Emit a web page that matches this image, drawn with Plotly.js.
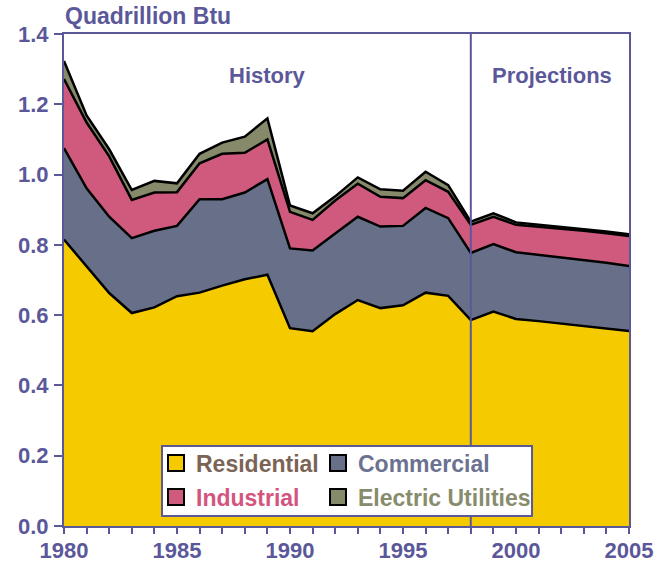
<!DOCTYPE html>
<html>
<head>
<meta charset="utf-8">
<script src="https://cdn.plot.ly/plotly-3.0.1.min.js"></script>
<style>
html,body{margin:0;padding:0;background:#ffffff;}
#chart{width:670px;height:563px;}
</style>
</head>
<body>
<div id="chart"></div>
<script>
// ---- Data (Quadrillion Btu) ----
const years = [1980,1981,1982,1983,1984,1985,1986,1987,1988,1989,1990,1991,1992,1993,1994,1995,1996,1997,1998,1999,2000,2001,2002,2003,2004,2005];
const residential = [0.815,0.740,0.663,0.606,0.622,0.654,0.664,0.684,0.702,0.715,0.563,0.554,0.603,0.643,0.620,0.628,0.664,0.655,0.586,0.610,0.589,0.583,0.576,0.568,0.562,0.555];
const commercial  = [0.260,0.221,0.217,0.213,0.218,0.200,0.266,0.246,0.247,0.272,0.227,0.230,0.229,0.237,0.232,0.226,0.241,0.221,0.191,0.192,0.190,0.189,0.189,0.189,0.187,0.185];
const industrial  = [0.197,0.187,0.172,0.109,0.109,0.096,0.102,0.129,0.113,0.113,0.104,0.087,0.094,0.094,0.085,0.079,0.079,0.075,0.080,0.078,0.078,0.080,0.082,0.083,0.084,0.085];
const electric    = [0.051,0.020,0.020,0.028,0.033,0.025,0.027,0.032,0.046,0.060,0.018,0.019,0.012,0.018,0.021,0.021,0.024,0.019,0.009,0.010,0.007,0.006,0.005,0.005,0.005,0.005];
const seriesNames = ['Residential','Commercial','Industrial','Electric Utilities'];
const yTickVals = [0,0.2,0.4,0.6,0.8,1.0,1.2,1.4];
const xTickVals = [1980,1985,1990,1995,2000,2005];
const periodLabels = ['History','Projections'];
const periodLabelX = [1989.0,2001.6];
const splitYear = 1998;

// ---- Styling ----
const purple = '#5B5899';
const fills = ['#F5CB00','#687089','#D05A7E','#868A6A'];
const textColors = ['#7B6455','#6B7291','#D3557E','#878C6C'];
const fam = '"Liberation Sans", Arial, Helvetica, sans-serif';
const baseFont = {family: fam, size: 22, color: purple, weight: 'bold'};

const series = [residential, commercial, industrial, electric];

const traces = series.map((s, i) => ({
  x: years, y: s, type: 'scatter', mode: 'lines',
  stackgroup: 'one', fillcolor: fills[i],
  line: {color: '#000000', width: 2.5},
  name: seriesNames[i], showlegend: false
}));

// one legend per entry so the 2x2 grid sits exactly as in the reference
const legendIds = ['legend','legend2','legend3','legend4'];
const legendTraces = seriesNames.map((n, i) => ({
  x: [null], y: [null], type: 'scatter', mode: 'markers',
  marker: {symbol: 'square', size: 16, color: fills[i], line: {color: '#000000', width: 2}},
  name: '<span style="color:' + textColors[i] + '">' + n + '</span>',
  legend: legendIds[i],
  showlegend: true, hoverinfo: 'skip'
}));

// pixel helpers for plot-area (paper) placement
const L = 64, R = 629, T = 34, B = 526;
const px = p => (p - L) / (R - L);
const py = p => (B - p) / (B - T);

const legendPos = [[156,463],[318,463],[156,497],[318,497]];
function legendCfg(i) {
  return {
    orientation: 'h', xanchor: 'left', yanchor: 'middle',
    x: px(legendPos[i][0]), y: py(legendPos[i][1]),
    bgcolor: 'rgba(0,0,0,0)', borderwidth: 0,
    itemwidth: 30, traceorder: 'normal',
    font: {family: fam, size: 23, color: purple, weight: 'bold'}
  };
}

const layout = {
  width: 670, height: 563,
  margin: {l: L, r: 670 - R, t: T, b: 563 - B, pad: 0},
  paper_bgcolor: '#ffffff', plot_bgcolor: '#ffffff',
  font: baseFont,
  title: {
    text: 'Quadrillion Btu', x: 65 / 670, xanchor: 'left', xref: 'container',
    y: 1 - 16 / 563, yanchor: 'middle', yref: 'container',
    font: {family: fam, size: 23, color: purple, weight: 'bold'}
  },
  xaxis: {
    range: [1980, 2005], tickvals: xTickVals, ticktext: xTickVals.map(String),
    showgrid: false, zeroline: false,
    showline: true, linecolor: purple, linewidth: 2, mirror: true,
    ticks: 'outside', ticklen: 6, tickwidth: 2, tickcolor: purple,
    minor: {dtick: 1, tick0: 1980, ticks: 'outside', ticklen: 6, tickwidth: 2, tickcolor: purple, showgrid: false},
    tickfont: baseFont, ticklabelstandoff: -2, fixedrange: true
  },
  yaxis: {
    range: [0, 1.4], tickvals: yTickVals, ticktext: yTickVals.map(v => v.toFixed(1)),
    showgrid: false, zeroline: false,
    showline: true, linecolor: purple, linewidth: 2, mirror: true,
    ticks: 'outside', ticklen: 8, tickwidth: 2, tickcolor: purple,
    tickfont: baseFont, ticklabelstandoff: 1, fixedrange: true
  },
  shapes: [
    {type: 'line', xref: 'x', yref: 'y', x0: splitYear, x1: splitYear, y0: 0, y1: 1.4,
     line: {color: purple, width: 2}, layer: 'above'},
    {type: 'rect', xref: 'paper', yref: 'paper', x0: px(162), x1: px(532), y0: py(516), y1: py(446),
     fillcolor: '#ffffff', line: {color: purple, width: 2}, layer: 'above'}
  ],
  annotations: periodLabels.map((t, i) => ({
    text: t, x: periodLabelX[i], xref: 'x', y: py(76), yref: 'paper',
    xanchor: 'center', yanchor: 'middle', showarrow: false,
    font: {family: fam, size: 22, color: purple, weight: 'bold'}
  })),
  showlegend: true
};
legendIds.forEach((id, i) => { layout[id] = legendCfg(i); });

Plotly.newPlot('chart', traces.concat(legendTraces), layout, {displayModeBar: false, staticPlot: true});
</script>
</body>
</html>
